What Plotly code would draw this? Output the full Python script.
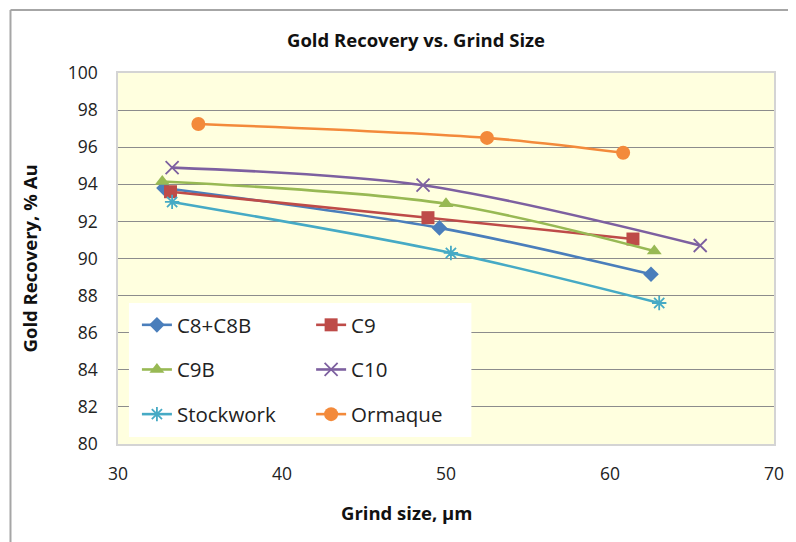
import plotly.graph_objects as go

series_names = ["C8+C8B", "C9", "C9B", "C10", "Stockwork", "Ormaque"]
grind_c8 = [32.8, 49.6, 62.5]
rec_c8 = [93.8, 91.65, 89.15]
grind_c9 = [33.2, 48.9, 61.4]
rec_c9 = [93.6, 92.2, 91.05]
grind_c9b = [32.7, 50.0, 62.7]
rec_c9b = [94.15, 92.95, 90.4]
grind_c10 = [33.3, 48.6, 65.5]
rec_c10 = [94.9, 93.95, 90.7]
grind_stock = [33.3, 50.3, 63.0]
rec_stock = [93.05, 90.3, 87.6]
grind_orm = [34.9, 52.5, 60.8]
rec_orm = [97.25, 96.5, 95.7]

x_ticks = [30, 40, 50, 60, 70]
y_ticks = [80, 82, 84, 86, 88, 90, 92, 94, 96, 98, 100]

xs = [grind_c8, grind_c9, grind_c9b, grind_c10, grind_stock, grind_orm]
ys = [rec_c8, rec_c9, rec_c9b, rec_c10, rec_stock, rec_orm]
colors = ["#4A7EBB", "#BE4B48", "#98B954", "#7D60A0", "#46AAC5", "#F38A3B"]
symbols = ["diamond", "square", "triangle-up", "x-thin-open", "asterisk-open", "circle"]
sizes = [12, 13, 13, 13, 12, 14]
legends = ["legend", "legend2", "legend", "legend2", "legend", "legend2"]

# page has an 8px body margin; figure coordinates are page coordinates minus 8
OFF = 8
W, H = 796 - OFF, 542 - OFF
L, T = 118 - OFF, 73 - OFF
R = W - (777 - OFF)
B = H - (444 - OFF)
pw, ph = W - L - R, H - T - B

def px_x(p):
    return (p - OFF - L) / pw

def px_y(p):
    return (H - B - (p - OFF)) / ph

fig = go.Figure()
for i, name in enumerate(series_names):
    open_sym = symbols[i].endswith("open")
    fig.add_trace(go.Scatter(
        x=xs[i], y=ys[i], name=name, mode="lines+markers",
        line=dict(color=colors[i], width=2.6, shape="spline", smoothing=0.9),
        marker=dict(symbol=symbols[i], size=sizes[i], color=colors[i],
                    line=dict(color=colors[i], width=1.8 if open_sym else 0)),
        legend=legends[i], legendgroup=name,
    ))

font_family = "Open Sans, Noto Sans, sans-serif"

fig.update_layout(
    width=W, height=H,
    margin=dict(l=L, r=R, t=T, b=B),
    paper_bgcolor="white",
    plot_bgcolor="#FFFFDF",
    font=dict(family=font_family, color="#222222"),
    showlegend=True,
    legend=dict(x=px_x(137), y=px_y(305), xanchor="left", yanchor="top",
                bgcolor="rgba(0,0,0,0)", font=dict(size=20.5, color="#222222"),
                tracegroupgap=15, itemwidth=30),
    legend2=dict(x=px_x(312), y=px_y(305), xanchor="left", yanchor="top",
                 bgcolor="rgba(0,0,0,0)", font=dict(size=20.5, color="#222222"),
                 tracegroupgap=15, itemwidth=30),
    xaxis=dict(range=[30, 70], tickvals=x_ticks, showgrid=False, zeroline=False,
               showline=True, linecolor="#D4D4D4", linewidth=1.5, mirror=True,
               ticks="", tickfont=dict(size=17.5, color="#222222"), ticklabelstandoff=13),
    yaxis=dict(range=[80, 100], tickvals=y_ticks, showgrid=True, gridcolor="#8C8C8C",
               gridwidth=1, zeroline=False, showline=True, linecolor="#D4D4D4",
               linewidth=1.5, mirror=True, ticks="", tickfont=dict(size=17.5, color="#222222"),
               ticklabelstandoff=15),
    annotations=[
        dict(text="<b>Gold Recovery vs. Grind Size</b>", x=px_x(417), y=px_y(40),
             xref="paper", yref="paper", showarrow=False, font=dict(size=18.5, color="#111111"),
             xanchor="center", yanchor="middle"),
        dict(text="<b>Grind size, µm</b>", x=px_x(408), y=px_y(512),
             xref="paper", yref="paper", showarrow=False, font=dict(size=18.5, color="#111111"),
             xanchor="center", yanchor="middle"),
        dict(text="<b>Gold Recovery, % Au</b>", x=px_x(29), y=px_y(258),
             xref="paper", yref="paper", showarrow=False, textangle=-90,
             font=dict(size=18.5, color="#111111"), xanchor="center", yanchor="middle"),
    ],
    shapes=[
        dict(type="rect", xref="paper", yref="paper", x0=px_x(129), x1=px_x(473),
             y0=px_y(437), y1=px_y(303), fillcolor="white", line=dict(width=0), layer="above"),
        dict(type="line", xref="paper", yref="paper", x0=px_x(10), x1=px_x(820),
             y0=px_y(10), y1=px_y(10), line=dict(color="#A6A6A6", width=2)),
        dict(type="line", xref="paper", yref="paper", x0=px_x(10), x1=px_x(10),
             y0=px_y(10), y1=px_y(560), line=dict(color="#A6A6A6", width=2)),
    ],
)

fig.write_html("out.html")
